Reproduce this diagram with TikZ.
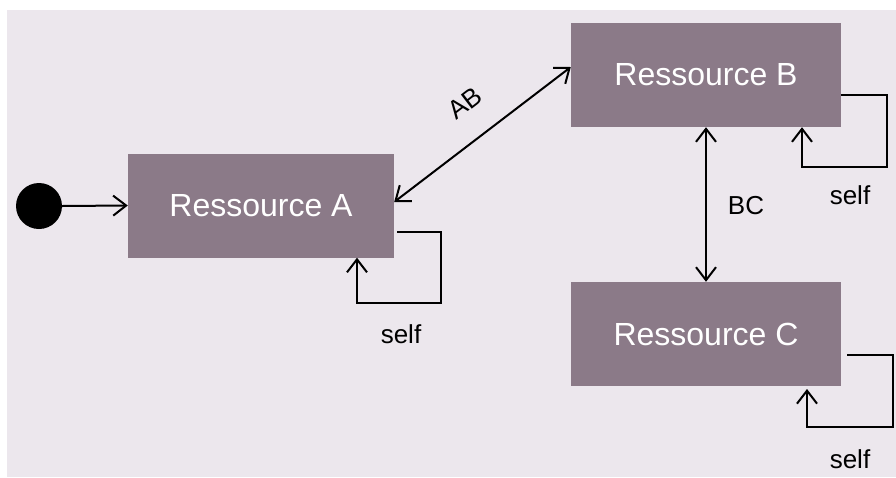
\documentclass[tikz,border=0pt]{standalone}
\usepackage{fontspec}
\setmainfont{Liberation Sans}
\usetikzlibrary{arrows.meta}
\definecolor{bgc}{HTML}{ECE7ED}
\definecolor{boxc}{HTML}{8B7A88}
\begin{document}
\begin{tikzpicture}[x=1pt,y=-1pt,
  res/.style={draw=none,fill=boxc,text=white,minimum width=266pt,minimum height=104pt,inner sep=0pt,font=\fontsize{32}{36}\selectfont},
  lbl/.style={font=\fontsize{26}{30}\selectfont,text=black,inner sep=0pt},
  tipb/.tip={Straight Barb[length=13pt,width=20pt,line width=2pt]},
  conn/.style={line width=2pt,-tipb},
  dconn/.style={line width=2pt,tipb-tipb}]
\useasboundingbox (0,0) rectangle (896,477);
\fill[white] (0,0) rectangle (896,477);
\fill[bgc] (7,10) rectangle (896,477);
\node[circle,fill=black,minimum size=46pt,inner sep=0pt] (init) at (39,206) {};
\node[res] (A) at (261,205.5) {Ressource A};
\node[res,minimum width=270pt] (B) at (706,75) {Ressource B};
\node[res,minimum width=270pt] (C) at (706,334) {Ressource C};
\draw[conn] (init.east) -- (A.west);
\draw[dconn] (A.east |- 0,202) coordinate (ab1) -- (B.west |- 0,67) coordinate (ab2);
\node[lbl,rotate=37.5] (ablbl) at (465,103) {AB};
\draw[dconn] (B.south) -- (C.north);
\node[lbl] (bclbl) at (746,206) {BC};
% self loops
\coordinate (a1) at (397,232);
\coordinate (a2) at (441,232);
\coordinate (a3) at (441,303);
\coordinate (a4) at (357,303);
\draw[conn,line join=miter] (a1) -- (a2) -- (a3) -- (a4) -- (a4 |- A.south);
\node[lbl] (selfA) at (401,334) {self};
\coordinate (b1) at (841,95);
\coordinate (b2) at (887,95);
\coordinate (b3) at (887,167);
\coordinate (b4) at (802,167);
\draw[conn,line join=miter] (b1) -- (b2) -- (b3) -- (b4) -- (b4 |- B.south);
\node[lbl] (selfB) at (850,195) {self};
\coordinate (c1) at (847,355);
\coordinate (c2) at (893,355);
\coordinate (c3) at (893,427);
\coordinate (c4) at (807,427);
\draw[conn,line join=miter] (c1) -- (c2) -- (c3) -- (c4) -- (807,389);
\node[lbl] (selfC) at (850,459) {self};
\end{tikzpicture}
\end{document}
